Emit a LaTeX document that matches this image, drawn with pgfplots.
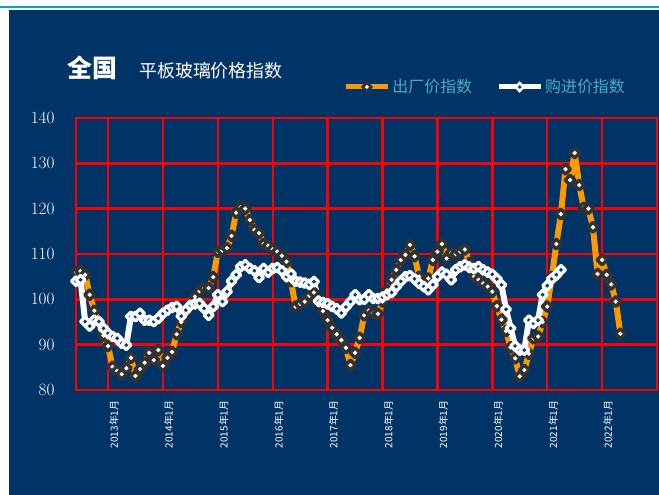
\documentclass[border=0pt]{standalone}
\usepackage{pgfplots}
\usepackage{pgfplotstable}
\pgfplotsset{compat=1.18}
\usepackage{fontspec}
\setmainfont{Liberation Serif}
\newfontfamily\cjk{Noto Sans CJK SC}

\definecolor{bgnavy}{RGB}{0,51,102}
\definecolor{topline}{RGB}{0,160,225}
\definecolor{gridred}{RGB}{255,0,0}
\definecolor{orangeline}{RGB}{255,153,0}
\definecolor{markdark}{RGB}{50,50,50}
\definecolor{markcore}{RGB}{0,60,125}
\definecolor{legendtext}{RGB}{75,172,198}

% 出厂价指数 (monthly)
\pgfplotstableread{
x y
0 106.0
1 106.2
2 105.4
3 101.0
4 97.5
5 94.5
6 92.0
7 89.7
8 85.1
9 84.2
10 83.5
11 84.8
12 87.1
13 83.1
14 84.6
15 86.0
16 88.2
17 86.6
18 88.8
19 85.3
20 87.1
21 88.4
22 92.3
23 95.0
24 97.0
25 98.5
26 100.6
27 101.8
28 102.5
29 102.5
30 104.9
31 110.5
32 110.8
33 111.3
34 114.0
35 119.1
36 120.3
37 120.0
38 117.5
39 115.3
40 114.6
41 112.2
42 111.8
43 111.0
44 110.5
45 109.6
46 108.3
47 104.0
48 98.4
49 99.0
50 99.5
51 100.8
52 101.5
53 100.0
54 97.4
55 95.4
56 93.7
57 92.3
58 91.0
59 89.3
60 85.5
61 88.2
62 91.5
63 96.5
64 97.5
65 97.0
66 96.8
67 99.5
68 102.0
69 104.3
70 106.5
71 108.7
72 109.8
73 112.0
74 109.5
75 105.0
76 103.8
77 104.6
78 108.7
79 110.5
80 112.2
81 109.0
82 110.2
83 110.0
84 110.5
85 111.0
86 108.0
87 105.0
88 104.3
89 103.5
90 102.8
91 101.7
92 98.5
93 95.5
94 93.0
95 89.4
96 87.0
97 83.0
98 84.4
99 88.0
100 91.4
101 91.8
102 95.0
103 98.4
104 105.0
105 112.2
106 118.8
107 128.7
108 126.3
109 132.3
110 125.2
111 120.2
112 120.0
113 115.9
114 105.6
115 108.7
116 105.4
117 103.3
118 99.5
119 92.4
}\chuchang

% 购进价指数 (monthly)
\pgfplotstableread{
x y
0 104.0
1 104.3
2 95.1
3 94.1
4 95.4
5 95.1
6 93.6
7 92.5
8 91.8
9 91.4
10 90.3
11 89.9
12 96.2
13 96.2
14 96.9
15 95.4
16 95.4
17 95.1
18 95.8
19 96.9
20 97.6
21 98.2
22 98.4
23 96.3
24 97.6
25 98.7
26 99.0
27 99.1
28 98.0
29 96.5
30 98.4
31 101.0
32 99.5
33 101.7
34 104.0
35 105.4
36 107.2
37 107.6
38 106.8
39 106.3
40 104.8
41 106.8
42 106.0
43 106.8
44 107.0
45 106.3
46 105.0
47 105.6
48 104.0
49 103.8
50 103.6
51 103.3
52 103.9
53 99.6
54 99.3
55 99.0
56 98.4
57 97.9
58 97.0
59 98.3
60 99.5
61 101.0
62 99.9
63 100.0
64 101.0
65 100.2
66 100.2
67 100.5
68 101.0
69 101.5
70 102.8
71 104.0
72 105.0
73 105.2
74 104.5
75 103.5
76 102.8
77 102.1
78 103.2
79 105.0
80 106.0
81 105.5
82 104.3
83 106.5
84 107.2
85 107.6
86 107.0
87 106.8
88 107.2
89 106.5
90 106.0
91 105.5
92 104.5
93 103.2
94 97.8
95 93.6
96 89.7
97 88.8
98 88.8
99 95.4
100 94.7
101 95.4
102 101.0
103 103.0
104 104.5
105 105.4
106 106.5
}\goujin

\pgfplotsset{
  orangeline/.style={color=orangeline, line width=6bp, no markers, line join=round},
  whiteline/.style={color=white, line width=6bp, no markers, line join=round},
  orangemarks/.style={only marks, mark=square*, mark size=3.5bp,
    mark options={rotate=45, fill=white, draw=markdark, line width=3.4bp, line join=round}},
  whitemarks/.style={only marks, mark=square*, mark size=3.2bp,
    mark options={rotate=45, fill=markcore, draw=white, line width=3.2bp, line join=round}},
}

\begin{document}
\begin{tikzpicture}[x=1bp, y=1bp]
  \useasboundingbox (0,0) rectangle (659,495);
  \fill[white] (0,0) rectangle (659,495);
  \fill[bgnavy] (9,0) rectangle (659,485);
  \draw[topline, line width=2.5bp] (0,488) -- (659,488);

  \node[anchor=west, text=white, inner sep=0pt, font=\cjk\bfseries\fontsize{25}{25}\selectfont] at (67,427) {全国};
  \node[anchor=west, text=white, inner sep=0pt, font=\cjk\fontsize{18}{18}\selectfont] at (139,424) {平板玻璃价格指数};

  \begin{axis}[
    at={(76bp,105bp)}, anchor=south west,
    scale only axis, width=581bp, height=272bp,
    xmin=0, xmax=127, ymin=80, ymax=140,
    xtick={7,19,...,115},
    xticklabels={2013年1月,2014年1月,2015年1月,2016年1月,2017年1月,2018年1月,2019年1月,2020年1月,2021年1月,2022年1月},
    ytick={80,90,...,140},
    grid=major,
    grid style={gridred, line width=2.4bp},
    major grid style={gridred, line width=2.4bp},
    axis line style={gridred, line width=2.4bp},
    major tick length=0pt,
    yticklabel style={text=white, font=\fontsize{17.5}{17.5}\selectfont, xshift=-18bp},
    xticklabel style={text=white, font=\cjk\fontsize{10}{10}\selectfont, xshift=6bp, yshift=-7bp, rotate=90, anchor=east},
    legend columns=2,
    legend cell align=left,
    legend style={at={(0.46,1.114)}, anchor=west, draw=none, fill=none, inner sep=0pt,
      text=legendtext, font=\cjk\fontsize{16}{16}\selectfont,
      /tikz/every even column/.append style={column sep=22bp}},
    legend image code/.code={\draw[mark repeat=2, mark phase=2, #1] plot coordinates {(0bp,0bp) (21bp,0bp) (42bp,0bp)};},
  ]
    \addplot[orangeline, forget plot] table {\chuchang};
    \addplot[whiteline, forget plot] table {\goujin};
    \addplot[orangemarks, forget plot] table {\chuchang};
    \addplot[whitemarks, forget plot] table {\goujin};

    \addlegendimage{color=orangeline, line width=5bp, mark=square*, mark size=3bp,
      mark options={rotate=45, fill=white, draw=markdark, line width=2.8bp}}
    \addlegendentry{出厂价指数}
    \addlegendimage{color=white, line width=5bp, mark=square*, mark size=2.8bp,
      mark options={rotate=45, fill=markcore, draw=white, line width=2.6bp}}
    \addlegendentry{购进价指数}
  \end{axis}
\end{tikzpicture}
\end{document}
